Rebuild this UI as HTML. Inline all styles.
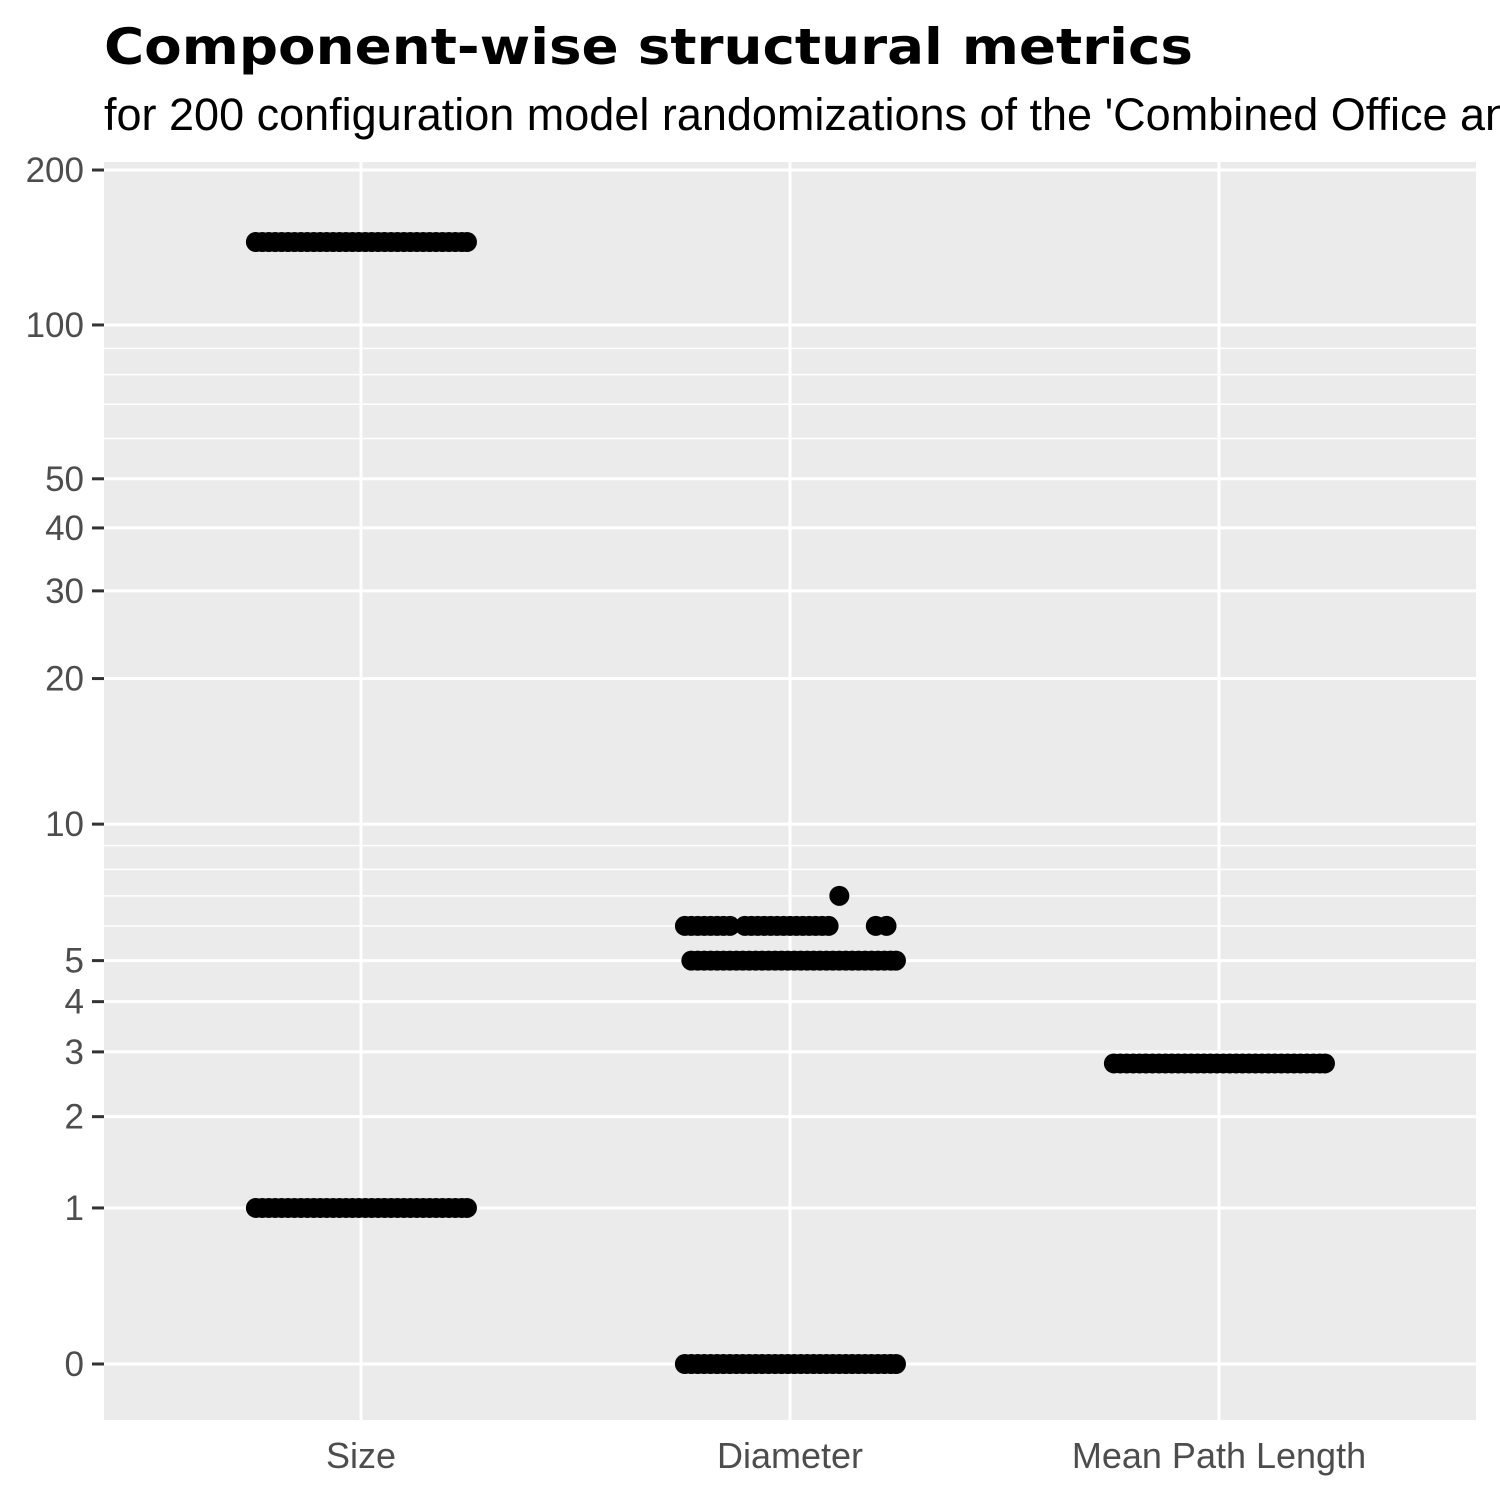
<!DOCTYPE html>
<html><head><meta charset="utf-8"><style>
html,body{margin:0;padding:0;background:#fff;}
svg{display:block;}
</style></head><body>
<svg id="chart" width="1500" height="1500" xmlns="http://www.w3.org/2000/svg">
<rect width="1500" height="1500" fill="#fff"/>
<text x="104" y="64" font-family="DejaVu Sans, sans-serif" font-weight="bold" font-size="50" textLength="1089" lengthAdjust="spacingAndGlyphs">Component-wise structural metrics</text>
<text x="104" y="130" font-family="Liberation Sans, sans-serif" font-size="45">for 200 configuration model randomizations of the 'Combined Office and Factory' network</text>
<rect x="104" y="162" width="1372" height="1258" fill="#ebebeb"/>
<g id="grid"></g>
<g id="axes"></g>
<g id="points"></g>
</svg>
<script>
const categories = ["Size", "Diameter", "Mean Path Length"];
const yTicks = [0, 1, 2, 3, 4, 5, 10, 20, 30, 40, 50, 100, 200];
const yMinor = [6, 7, 8, 9, 60, 70, 80, 90];
const sizeValues = [145, 1];
const diameterValues = [0, 5, 6, 7];
const mplValues = [2.8];
const bandJitter = [-0.245,-0.23,-0.215,-0.2,-0.185,-0.17,-0.155,-0.14,-0.125,-0.11,-0.095,-0.08,-0.065,-0.05,-0.035,-0.02,-0.005,0.01,0.025,0.04,0.055,0.07,0.085,0.1,0.115,0.13,0.145,0.16,0.175,0.19,0.205,0.22,0.235,0.247];
const diam6Jitter = [-0.245,-0.23,-0.215,-0.2,-0.185,-0.17,-0.155,-0.14,-0.105,-0.09,-0.075,-0.06,-0.045,-0.03,-0.015,0,0.015,0.03,0.045,0.06,0.075,0.09,0.2,0.225];
const diam7Jitter = [0.115];

const X0 = 104, X1 = 1476, Y0 = 1364, YPU = 518.4;
function xPos(i){ return 361 + i * 429; }
function yPos(v){ return Y0 - Math.log10(v + 1) * YPU; }
const NS = "http://www.w3.org/2000/svg";
function mk(tag, attrs, parent){ const e = document.createElementNS(NS, tag); for (const k in attrs) e.setAttribute(k, attrs[k]); parent.appendChild(e); return e; }
const grid = document.getElementById('grid'), axes = document.getElementById('axes'), pts = document.getElementById('points');

yMinor.forEach(v => {
  const l = mk('line', {x1: X0, x2: X1, y1: yPos(v), y2: yPos(v), stroke: '#fff', 'stroke-width': 1.5}, grid);
  
  
});
yTicks.forEach(v => {
  const y = yPos(v);
  const l = mk('line', {x1: X0, x2: X1, y1: y, y2: y, stroke: '#fff', 'stroke-width': 3}, grid);
  
  
  const t = mk('line', {x1: 92, x2: 104, y1: y, y2: y, stroke: '#333', 'stroke-width': 3}, axes);
  
  
  const tx = mk('text', {x: 84, y: y + 12, 'text-anchor': 'end', 'font-family': 'Liberation Sans, sans-serif', 'font-size': 35, fill: '#4d4d4d'}, axes);
  tx.textContent = v;
  
  
});
categories.forEach((c, i) => {
  const x = xPos(i);
  const l = mk('line', {x1: x, x2: x, y1: 162, y2: 1420, stroke: '#fff', 'stroke-width': 3}, grid);
  
  
  const tx = mk('text', {x: x, y: 1468, 'text-anchor': 'middle', 'font-family': 'Liberation Sans, sans-serif', 'font-size': 36, fill: '#4d4d4d'}, axes);
  tx.textContent = c;
  
  
});
function drawCluster(catIdx, value, jit){
  jit.forEach(j => {
    const c = mk('circle', {cx: xPos(catIdx) + j * 429, cy: yPos(value), r: 10, fill: '#000'}, pts);
    
    
  });
}
sizeValues.forEach(v => drawCluster(0, v, bandJitter));
drawCluster(1, diameterValues[0], bandJitter);
drawCluster(1, diameterValues[1], bandJitter.slice(1));
drawCluster(1, diameterValues[2], diam6Jitter);
drawCluster(1, diameterValues[3], diam7Jitter);
mplValues.forEach(v => drawCluster(2, v, bandJitter));
</script>
</body></html>
